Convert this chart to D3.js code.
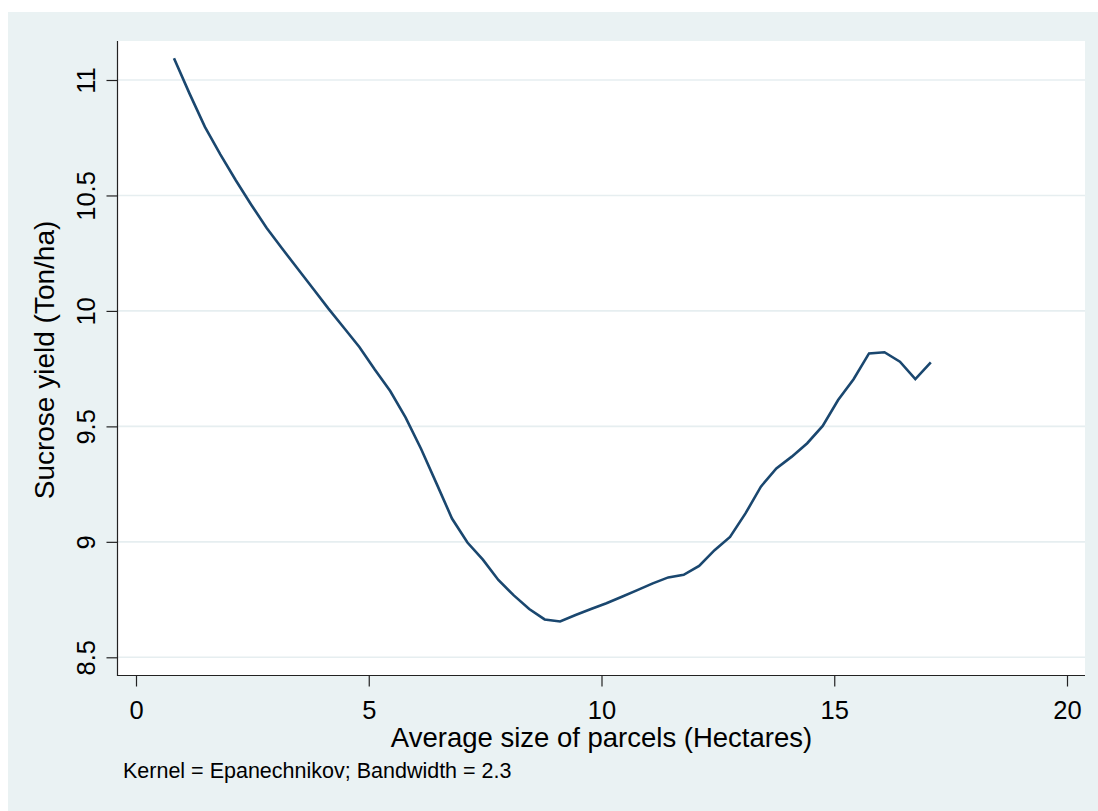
<!DOCTYPE html>
<html>
<head>
<meta charset="utf-8">
<script src="https://cdn.jsdelivr.net/npm/d3@7"></script>
<style>
  html, body { margin: 0; padding: 0; background: #ffffff; }
  svg { display: block; }
  text { font-family: "Liberation Sans", Arial, Helvetica, sans-serif; fill: #000; }
</style>
</head>
<body>
<svg id="chart" width="1098" height="811"></svg>
<script>
// Local polynomial smooth: sucrose yield vs. average parcel size (50 grid points)
const parcelSize = [
  0.816, 1.148, 1.480, 1.811, 2.143, 2.475, 2.807, 3.139, 3.470, 3.802,
  4.134, 4.466, 4.798, 5.129, 5.461, 5.793, 6.125, 6.457, 6.788, 7.120,
  7.452, 7.784, 8.116, 8.447, 8.779, 9.111, 9.443, 9.775, 10.106, 10.438,
  10.770, 11.102, 11.434, 11.765, 12.097, 12.429, 12.761, 13.093, 13.424, 13.756,
  14.088, 14.420, 14.752, 15.083, 15.415, 15.747, 16.079, 16.411, 16.742, 17.074
];
const sucroseYield = [
  11.094, 10.942, 10.797, 10.678, 10.566, 10.460, 10.359, 10.270, 10.184, 10.097,
  10.010, 9.927, 9.844, 9.746, 9.653, 9.538, 9.402, 9.252, 9.101, 8.997,
  8.923, 8.835, 8.768, 8.709, 8.664, 8.655, 8.683, 8.709, 8.734, 8.762,
  8.791, 8.820, 8.846, 8.857, 8.896, 8.964, 9.021, 9.123, 9.239, 9.318,
  9.369, 9.427, 9.502, 9.614, 9.704, 9.816, 9.821, 9.780, 9.705, 9.777
];
const xTicks = [0, 5, 10, 15, 20];
const yTicks = [8.5, 9, 9.5, 10, 10.5, 11];
const xTitle = "Average size of parcels (Hectares)";
const yTitle = "Sucrose yield (Ton/ha)";
const note = "Kernel = Epanechnikov; Bandwidth = 2.3";

const svg = d3.select("#chart");
const plot = { left: 118, right: 1085, top: 41, bottom: 675 };

const x = d3.scaleLinear().domain([0, 20]).range([136, 1067]);
const y = d3.scaleLinear().domain([8.5, 11]).range([657.3, 80]);

// graph region
svg.append("rect")
  .attr("x", 8).attr("y", 12).attr("width", 1090).attr("height", 799)
  .attr("fill", "#eaf2f3");

// plot region
svg.append("rect")
  .attr("x", plot.left).attr("y", plot.top)
  .attr("width", plot.right - plot.left).attr("height", plot.bottom - plot.top)
  .attr("fill", "#ffffff");

// horizontal grid lines
svg.append("g").selectAll("line").data(yTicks).join("line")
  .attr("x1", plot.left).attr("x2", plot.right)
  .attr("y1", d => y(d)).attr("y2", d => y(d))
  .attr("stroke", "#e6eef0").attr("stroke-width", 1.6);

// x axis
const xAxis = svg.append("g")
  .attr("transform", `translate(0,${plot.bottom + 0.5})`)
  .call(d3.axisBottom(x).tickValues(xTicks).tickSize(11).tickPadding(14).tickFormat(d3.format("d")));
xAxis.select(".domain").attr("d", `M${plot.left - 1},0H${plot.right}`).attr("stroke", "#222").attr("stroke-width", 1.2);
xAxis.selectAll(".tick line").attr("stroke", "#222").attr("stroke-width", 1.2);
xAxis.selectAll(".tick text")
  .attr("font-size", 25.5).attr("font-family", "Liberation Sans, Arial, sans-serif")
  .attr("fill", "#000").attr("dy", "0.71em");

// y axis
const yAxis = svg.append("g")
  .attr("transform", `translate(${plot.left - 0.5},0)`)
  .call(d3.axisLeft(y).tickValues(yTicks).tickSize(11).tickFormat(d3.format("")));
yAxis.select(".domain").attr("d", `M0,${plot.top}V${plot.bottom + 1}`).attr("stroke", "#222").attr("stroke-width", 1.2);
yAxis.selectAll(".tick line").attr("stroke", "#222").attr("stroke-width", 1.2);
yAxis.selectAll(".tick text")
  .attr("font-size", 25.5).attr("font-family", "Liberation Sans, Arial, sans-serif")
  .attr("fill", "#000")
  .attr("x", null).attr("dy", null)
  .attr("text-anchor", "middle")
  .attr("transform", "translate(-23,0) rotate(-90)");

// smooth line
const line = d3.line()
  .x((d, i) => x(parcelSize[i]))
  .y(d => y(d));
svg.append("path")
  .datum(sucroseYield)
  .attr("d", line)
  .attr("fill", "none")
  .attr("stroke", "#1a476f")
  .attr("stroke-width", 2.6)
  .attr("stroke-linejoin", "miter");

// axis titles
svg.append("text")
  .attr("x", (plot.left + plot.right) / 2).attr("y", 746.5)
  .attr("text-anchor", "middle").attr("font-size", 27.5)
  .text(xTitle);

svg.append("text")
  .attr("transform", `translate(54,${(plot.top + plot.bottom) / 2 + 2}) rotate(-90)`)
  .attr("text-anchor", "middle").attr("font-size", 28)
  .text(yTitle);

// note
svg.append("text")
  .attr("x", 123).attr("y", 778)
  .attr("font-size", 21.5)
  .text(note);
</script>
</body>
</html>
